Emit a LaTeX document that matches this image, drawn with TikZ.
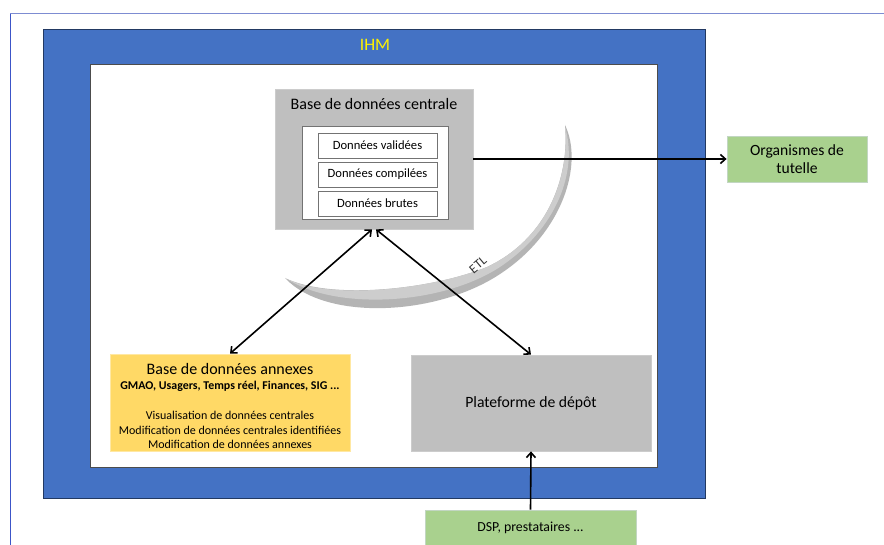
\documentclass[tikz,border=0pt]{standalone}
\usepackage{fontspec}
\setmainfont{Carlito}
\usetikzlibrary{arrows.meta}
\definecolor{ihmblue}{HTML}{4472C4}
\definecolor{annexyellow}{HTML}{FFD966}
\definecolor{tgreen}{HTML}{A9D18E}
\definecolor{tgray}{HTML}{BFBFBF}
\definecolor{framelav}{RGB}{125,140,210}
\definecolor{frameblue}{RGB}{60,85,200}
\definecolor{etlgray}{RGB}{180,180,180}
\definecolor{etllight}{RGB}{205,205,205}
\begin{document}
\begin{tikzpicture}[x=1pt,y=-1pt,
  graybox/.style={fill=tgray,draw=gray!40,line width=0.8pt,inner sep=0pt},
  subbox/.style={fill=white,draw=gray!110,line width=0.6pt,minimum width=119pt,minimum height=25pt,inner sep=0pt,font=\fontsize{12.6}{14}\selectfont},
  greenbox/.style={fill=tgreen,draw=green!20!gray!40,line width=0.8pt,inner sep=0pt,align=center},
  conn/.style={line width=1.6pt,{Straight Barb[length=5pt,width=9pt]}-{Straight Barb[length=5pt,width=9pt]}},
  oneway/.style={line width=1.6pt,-{Straight Barb[length=5pt,width=9pt]}}]
\useasboundingbox (0,0) rectangle (884,545);
% outer frame lines
\draw[framelav,line width=1pt] (10,14) -- (884,14);
\draw[frameblue,line width=1pt] (10,14) -- (10,545);
% IHM blue frame
\node[fill=ihmblue,draw=ihmblue!50!black,line width=0.6pt,minimum width=662pt,minimum height=469pt,inner sep=0pt] (ihm) at (374,263.5) {};
\node[text=yellow,font=\fontsize{17.5}{19}\selectfont] (ihmlabel) at (375,45) {IHM};
\node[fill=white,draw=gray!60!black,line width=0.6pt,minimum width=567pt,minimum height=403pt,inner sep=0pt] (inner) at (373.5,265.5) {};
% central database
\node[graybox,minimum width=198pt,minimum height=140pt] (central) at (374,159) {};
\node[font=\fontsize{16}{18}\selectfont] (centraltitle) at (374,104) {Base de données centrale};
\node[fill=white,draw=gray!110,line width=0.6pt,minimum width=146pt,minimum height=93pt,inner sep=0pt] (cinner) at (375,172.5) {};
\node[subbox] (valid) at (377.5,145.5) {Données validées};
\node[subbox] (compil) at (377.5,174.5) {Données compilées};
\node[subbox] (brut) at (377.5,203.5) {Données brutes};
% ETL crescent
\fill[etlgray] (565,125) .. controls (584,165) and (562,232) .. (503,272)
  .. controls (440,316) and (326,322) .. (285,278)
  .. controls (330,300) and (430,290) .. (487,267)
  .. controls (545,240) and (570,180) .. (565,125) -- cycle;
\fill[etllight] (565,127) .. controls (578,170) and (558,228) .. (500,267)
  .. controls (440,306) and (335,310) .. (287,279)
  .. controls (330,300) and (430,290) .. (487,267)
  .. controls (545,240) and (570,180) .. (565,127) -- cycle;
\node[rotate=40,text=black!80,font=\fontsize{13}{14}\selectfont,inner sep=0pt] (etl) at (478,265) {ETL};
% other boxes
\node[greenbox,minimum width=140pt,minimum height=46pt,font=\fontsize{15.6}{18}\selectfont] (org) at (797,159) {Organismes de\\tutelle};
\node[fill=annexyellow,draw=annexyellow!60!white,line width=0.8pt,minimum width=240pt,minimum height=97pt,inner sep=0pt] (annex) at (230,402.5) {};
\node[align=center,anchor=north,inner sep=0pt,font=\fontsize{12}{14.5}\selectfont] (annextext) at (230,363.5) {%
  {\fontsize{16}{14}\selectfont Base de données annexes}\\
  {\bfseries\fontsize{11.9}{14.5}\selectfont GMAO, Usagers, Temps réel, Finances, SIG ...}\\[16pt]
  Visualisation de données centrales\\
  Modification de données centrales identifiées\\
  Modification de données annexes};
\node[graybox,minimum width=240pt,minimum height=96pt,font=\fontsize{15.7}{18}\selectfont] (plat) at (531,403) {Plateforme de dépôt};
\node[greenbox,minimum width=211pt,minimum height=36pt,font=\fontsize{13.8}{16}\selectfont] (dsp) at (530.5,528) {DSP, prestataires ...};
% connectors
\draw[oneway] (central.east) -- (org.west);
\draw[conn] ([xshift=-2pt]central.south) -- (annex.north);
\draw[conn] ([xshift=2pt]central.south) -- (plat.north);
\draw[oneway] (dsp.north) -- (plat.south);
\end{tikzpicture}
\end{document}
